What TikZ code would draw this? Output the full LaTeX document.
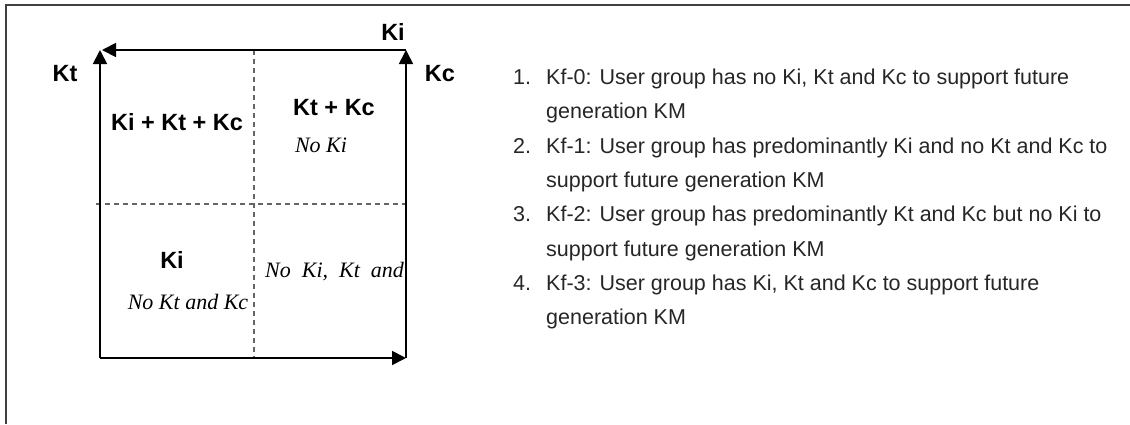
\documentclass[tikz,border=0pt]{standalone}
\usepackage{fontspec}
\setmainfont{Liberation Sans}
\newfontfamily\serifit{Liberation Serif}
\usetikzlibrary{arrows.meta}
\begin{document}
\begin{tikzpicture}[x=1pt,y=-1pt,
  axis/.style={line width=1.8pt,-{Triangle[length=14pt,width=14pt]}},
  grid/.style={line width=1.2pt,dashed,dash pattern=on 5pt off 4pt,black!60},
  frame/.style={line width=1.5pt,black!75},
  lab/.style={font=\fontsize{23.5}{26}\selectfont\bfseries,inner sep=0pt},
  note/.style={font=\fontsize{22}{26}\selectfont\serifit\itshape,inner sep=0pt},
  item/.style={font=\fontsize{21.5}{24}\selectfont,inner sep=0pt,anchor=base west,text=black!85}]
\useasboundingbox (0,0) rectangle (1130,424);
% outer frame (top and left edges)
\draw[frame] (1130,5) -- (6,5) -- (6,424);
% corners of the quadrant square
\coordinate (bl) at (100,358);
\coordinate (br) at (406,358);
\coordinate (tl) at (100,50);
\coordinate (tr) at (406,50);
\coordinate (tlh) at (102,50);
\coordinate (mt) at (254,50);
\coordinate (mb) at (254,358);
\coordinate (ml) at (96,204);
\coordinate (mr) at (406,204);
% dashed quadrant dividers
\draw[grid] (mt) -- (mb);
\draw[grid] (ml) -- (mr);
% axes
\draw[axis] (bl) -- (br);
\draw[axis] (br) -- (tr);
\draw[axis] (tr) -- (tlh);
\draw[axis] (bl) -- (tl);
% axis labels
\node[lab] (ki) at (393,32) {Ki};
\node[lab] (kt) at (65,74) {Kt};
\node[lab] (kc) at (440,74) {Kc};
% quadrant contents
\node[lab] (q1) at (177,122) {Ki + Kt + Kc};
\node[lab] (q2) at (334,108) {Kt + Kc};
\node[note] (q2n) at (321,145) {No Ki};
\node[lab] (q3) at (172,260) {Ki};
\node[note] (q3n) at (188,302) {No Kt and Kc};
\node[note,anchor=west] (q4n) at (265,272) {No\ \ Ki,\ \ Kt\ \ and};
% legend
\node[item] (i1a) at (513,84.5) {\makebox[33pt][l]{1.}Kf-0: User group has no Ki, Kt and Kc to support future};
\node[item] (i1b) at (546,118.8) {generation KM};
\node[item] (i2a) at (513,153.1) {\makebox[33pt][l]{2.}Kf-1: User group has predominantly Ki and no Kt and Kc to};
\node[item] (i2b) at (546,187.4) {support future generation KM};
\node[item] (i3a) at (513,221.7) {\makebox[33pt][l]{3.}Kf-2: User group has predominantly Kt and Kc but no Ki to};
\node[item] (i3b) at (546,256.0) {support future generation KM};
\node[item] (i4a) at (513,290.3) {\makebox[33pt][l]{4.}Kf-3: User group has Ki, Kt and Kc to support future};
\node[item] (i4b) at (546,324.6) {generation KM};
\end{tikzpicture}
\end{document}
